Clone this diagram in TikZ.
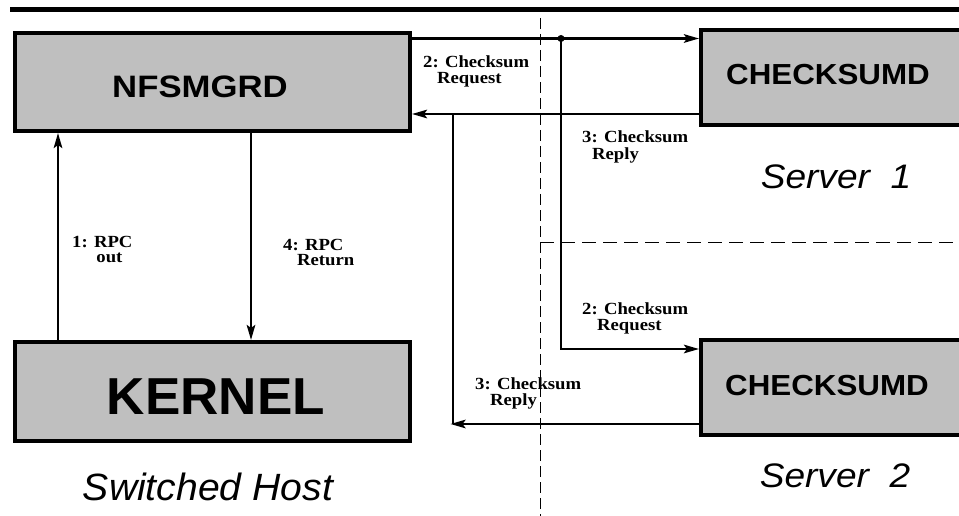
\documentclass[tikz,border=0pt]{standalone}
\usepackage{fontspec}
\setmainfont{Liberation Serif}
\newfontfamily\hsans{Liberation Sans}
\usetikzlibrary{arrows.meta}
\definecolor{boxgray}{RGB}{191,191,191}
\newcommand{\hx}[2][1.1]{\scalebox{#1}[1]{#2}}
\begin{document}
\begin{tikzpicture}[x=1pt,y=-1pt,
  box/.style={draw=black, line width=4pt, fill=boxgray, inner sep=0pt},
  boxtext/.style={font=\hsans\bfseries, inner sep=0pt},
  conn/.style={line width=2.5pt, draw=black},
  arrowed/.style={-{Stealth[length=15pt,width=8.5pt,inset=3pt]}},
  msg/.style={font=\fontsize{17}{16}\selectfont\bfseries, inner sep=0pt, anchor=base west},
  place/.style={font=\hsans\itshape, inner sep=0pt},
  divider/.style={line width=1pt, dash pattern=on 11pt off 5pt}
]
\useasboundingbox (0,0) rectangle (959,516);
\clip (0,0) rectangle (959,516);

% top rule
\draw[line width=5pt] (10,10) -- (975,10);

% dividers
\draw[divider] (540,18) -- (540,520);
\draw[divider, dash pattern=on 14pt off 7pt] (540,242) -- (975,242);

% boxes
\node[box, minimum width=395pt, minimum height=98pt] (nfs) at (212.5,82) {};
\node[boxtext, font=\hsans\bfseries\fontsize{31}{31}\selectfont] (nfsl) at (200,86.5) {\hx[1.12]{NFSMGRD}};
\node[box, minimum width=395pt, minimum height=99pt] (kernel) at (212.5,391.5) {};
\node[boxtext, font=\hsans\bfseries\fontsize{52}{52}\selectfont] (kernell) at (216,396.5) {\hx[1.02]{KERNEL}};
\node[box, minimum width=274pt, minimum height=95pt] (cs1) at (838,77.5) {};
\node[boxtext, font=\hsans\bfseries\fontsize{29}{29}\selectfont] (cs1l) at (828,75) {\hx[1.08]{CHECKSUMD}};
\node[box, minimum width=274pt, minimum height=95pt] (cs2) at (838,387.5) {};
\node[boxtext, font=\hsans\bfseries\fontsize{29}{29}\selectfont] (cs2l) at (827,386) {\hx[1.08]{CHECKSUMD}};

% place labels
\node[place, font=\hsans\itshape\fontsize{34}{34}\selectfont] (s1) at (836,176.5) {\hx[1.09]{Server\ \ 1}};
\node[place, font=\hsans\itshape\fontsize{34}{34}\selectfont] (s2) at (835,476) {\hx[1.09]{Server\ \ 2}};
\node[place, font=\hsans\itshape\fontsize{38}{38}\selectfont] (host) at (208,487) {\hx[1.03]{Switched Host}};

% junction coordinates
\coordinate (rpcx) at (58,0);
\coordinate (retx) at (251,0);
\coordinate (req1) at (561,38.5);
\coordinate (req2) at (561,349);
\coordinate (rep1) at (453,114);
\coordinate (rep2) at (453,424);

% connectors
\draw[conn, arrowed] (kernel.north -| rpcx) -- (nfs.south -| rpcx);
\draw[conn, arrowed] (nfs.south -| retx) -- (kernel.north -| retx);
\draw[conn, arrowed] (nfs.east |- req1) -- (cs1.west |- req1);
\fill (req1) circle (3.5pt);
\draw[conn, arrowed] (req1) |- (cs2.west |- req2);
\draw[conn, arrowed] (cs1.west |- rep1) -- (nfs.east |- rep1);
\draw[conn] (rep1) -- (rep2);
\draw[conn, arrowed] (cs2.west |- rep2) -- ([xshift=-2.5pt]rep2);

% message labels
\node[msg] (m1) at (72,247) {\hx{\begin{tabular}[t]{@{}l@{}}1: RPC\\\hspace*{22pt}out\end{tabular}}};
\node[msg] (m4) at (283,250) {\hx{\begin{tabular}[t]{@{}l@{}}4: RPC\\\hspace*{12.7pt}Return\end{tabular}}};
\node[msg] (m2a) at (423,68) {\hx{\begin{tabular}[t]{@{}l@{}}2: Checksum\\\hspace*{12.7pt}Request\end{tabular}}};
\node[msg] (m3a) at (582,143) {\hx{\begin{tabular}[t]{@{}l@{}}3: Checksum\\\hspace*{9pt}Reply\end{tabular}}};
\node[msg] (m2b) at (582,314) {\hx{\begin{tabular}[t]{@{}l@{}}2: Checksum\\\hspace*{13.6pt}Request\end{tabular}}};
\node[msg] (m3b) at (475,389) {\hx{\begin{tabular}[t]{@{}l@{}}3: Checksum\\\hspace*{13.6pt}Reply\end{tabular}}};
\end{tikzpicture}
\end{document}
